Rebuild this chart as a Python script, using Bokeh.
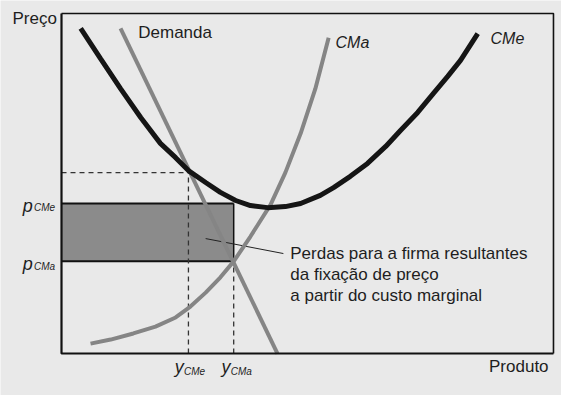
from bokeh.plotting import figure
from bokeh.models import Range1d, Label
from bokeh.embed import file_html
from bokeh.resources import INLINE

# ---- data (axes 0..100) ----
cme_x = [3.9, 7.9, 12.0, 16.1, 20.1, 23.2, 25.8, 29.3, 32.3, 35.4, 38.4, 41.9, 45.5, 48.6,
         52.6, 55.3, 58.7, 62.2, 65.9, 68.9, 72.4, 75.6, 78.5, 81.1, 84.6]
cme_y = [95.6, 86.8, 77.9, 69.4, 61.8, 57.6, 53.8, 50.3, 47.4, 45.0, 43.5, 42.9, 43.2, 44.1,
         46.5, 48.8, 52.1, 55.9, 60.9, 65.6, 70.9, 76.5, 81.5, 86.2, 94.1]
cma_x = [5.9, 10.0, 14.6, 19.1, 23.2, 26.2, 29.3, 32.3, 35.0, 38.4, 42.5, 45.5, 48.6, 51.6, 54.3]
cma_y = [2.9, 4.1, 5.9, 7.9, 10.6, 13.8, 17.9, 22.4, 27.1, 34.4, 43.8, 53.2, 64.7, 77.9, 92.9]
demand_x = [12.0, 43.9]
demand_y = [95.6, 0.0]
p_cme, p_cma = 44.1, 27.1
y_cme, y_cma = 25.8, 35.0
p_dash = 53.2
x_max, y_max = 100, 100

FONT = "Liberation Sans"
INK = "#1e1e1e"
BG = "#e9e9e9"

# the frame fills the whole canvas; the axis box is drawn at 0..100
p = figure(width=561, height=395, output_backend="svg", toolbar_location=None,
           x_range=Range1d(-12.40, 101.63), y_range=Range1d(-12.35, 103.82),
           x_axis_location=None, y_axis_location=None,
           min_border_left=0, min_border_right=0, min_border_top=0, min_border_bottom=0)
p.grid.visible = False
p.background_fill_color = BG
p.border_fill_color = BG
p.outline_line_color = None

# shaded loss rectangle
p.quad(left=0, right=y_cma, bottom=p_cma, top=p_cme, fill_color="#8b8b8b", line_color=None)
p.segment(x0=[0, 0, y_cma], y0=[p_cme, p_cma, p_cma], x1=[y_cma, y_cma, y_cma],
          y1=[p_cme, p_cma, p_cme], line_color="#111111", line_width=[2, 2, 1.5])

# dashed guides
p.segment(x0=[y_cme, 0, y_cma], y0=[0, p_dash, 0], x1=[y_cme, y_cme, y_cma],
          y1=[p_dash, p_dash, p_cma], line_color="#333333", line_width=1.3, line_dash="5 4")

# pointer line
p.segment(x0=[29.3], y0=[33.8], x1=[45.1], y1=[29.4], line_color="#222222", line_width=1)

# curves
p.line(demand_x, demand_y, line_color="#858585", line_width=4)
p.line(cma_x, cma_y, line_color="#858585", line_width=4)
p.line(cme_x, cme_y, line_color="#151515", line_width=5)

# axis box
p.line([0, 0, x_max], [y_max, 0, 0], line_color="#111111", line_width=2.2)
p.line([0, x_max, x_max], [y_max, y_max, 0], line_color="#111111", line_width=1.6)

def lab(x, y, t, size=17, style="normal", align="left", base="middle"):
    p.add_layout(Label(x=x, y=y, text=t, text_font=FONT, text_font_size=f"{size}px",
                       text_font_style=style, text_color=INK, text_align=align,
                       text_baseline=base))

lab(-9.96, 98.5, "Preço")
lab(15.6, 94.4, "Demanda")
lab(55.7, 91.5, "CMa", 16, "italic")
lab(87.2, 92.6, "CMe", 16, "italic")
lab(99.0, -3.8, "Produto", align="right")
lab(46.5, 29.4, "Perdas para a firma resultantes")
lab(46.5, 23.2, "da fixação de preço")
lab(46.5, 17.1, "a partir do custo marginal")

# price labels with subscripts
lab(-7.9, p_cme - 0.6, "p", 18, "italic", base="alphabetic")
lab(-5.6, p_cme - 1.2, "CMe", 10, "italic", base="alphabetic")
lab(-7.9, p_cma - 0.9, "p", 18, "italic", base="alphabetic")
lab(-5.6, p_cma - 1.5, "CMa", 10, "italic", base="alphabetic")

# quantity labels with subscripts
lab(y_cme - 2.8, -4.1, "y", 18, "italic", base="alphabetic")
lab(y_cme - 0.9, -5.3, "CMe", 10, "italic", base="alphabetic")
lab(y_cma - 2.5, -4.1, "y", 18, "italic", base="alphabetic")
lab(y_cma - 0.6, -5.3, "CMa", 10, "italic", base="alphabetic")

open("out.html", "w").write(file_html(p, INLINE))
